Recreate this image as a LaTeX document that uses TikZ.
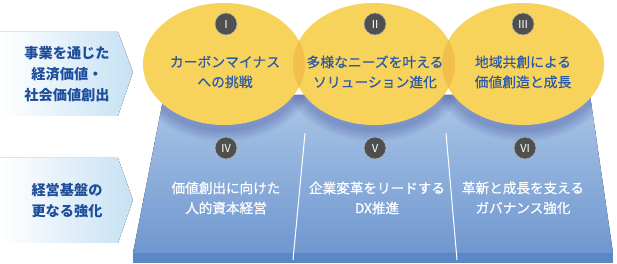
\documentclass[tikz,border=0pt]{standalone}
\usepackage{fontspec}
\newfontfamily\jpfont{Noto Sans CJK JP}
\newfontfamily\jpmedium[FakeBold=0.5]{Noto Sans CJK JP}
\usetikzlibrary{calc}
\definecolor{ellipseYellow}{HTML}{F7D35B}
\definecolor{overlapYellow}{HTML}{F2BF4C}
\definecolor{themeBlue}{HTML}{2B5BA8}
\definecolor{labelBlue}{HTML}{1E4E9B}
\definecolor{arrowBlue}{HTML}{C6E1F4}
\definecolor{platformTop}{HTML}{ABC6E7}
\definecolor{platformBottom}{HTML}{6F97CF}
\definecolor{platformEdge}{HTML}{5A88C7}
\definecolor{badgeGray}{HTML}{4F4F4F}
\tikzset{
  sideArrow/.style={
    left color=white,
    right color=arrowBlue,
    draw=none
  },
  sideLabel/.style={
    align=center,
    text=labelBlue,
    font=\jpfont\bfseries\fontsize{14.2}{21}\selectfont
  },
  themeText/.style={
    align=center,
    text=themeBlue,
    font=\jpmedium\fontsize{13.8}{20}\selectfont
  },
  baseText/.style={
    align=center,
    text=white,
    font=\jpmedium\fontsize{13.6}{20}\selectfont
  },
  badge/.style={
    circle,
    fill=badgeGray,
    draw=black!30,
    line width=0.6pt,
    minimum size=22pt,
    inner sep=0pt,
    text=white,
    font=\jpfont\fontsize{11}{11}\selectfont
  }
}

\begin{document}
\begin{tikzpicture}[x=1pt, y=1pt]
\useasboundingbox (0,0) rectangle (617,264);
\def\rx{81}    % ellipse x radius
\def\ry{61}    % ellipse y radius
\def\cy{200}   % ellipse centre height

% Side arrows
\fill[sideArrow] (0,232) -- (118,232) -- (133,192) -- (118,148) -- (0,148) -- cycle;
\fill[sideArrow] (0,106) -- (118,106) -- (133,64) -- (118,21) -- (0,21) -- cycle;
\node[sideLabel] (valueLabel) at (67,190) {事業を通じた\\経済価値・\\社会価値創出};
\node[sideLabel] (baseLabel) at (67,63) {経営基盤の\\更なる強化};

% Platform (trapezoid + front edge)
\path (164,169) coordinate (platNW) (590,169) coordinate (platNE)
      (613,11) coordinate (platSE) (133,11) coordinate (platSW);
\fill[platformEdge] (133,1) rectangle (613,11);
\fill[top color=platformTop, bottom color=platformBottom]
  (platNW) -- (platNE) -- (platSE) -- (platSW) -- cycle;

% soft shadow below the ellipses
\begin{scope}
  \clip (platNW) -- (platNE) -- (platSE) -- (platSW) -- cycle;
  \foreach \cx in {224,374,523}
    \foreach \s in {2,4,...,12}
      \fill[blue!40!black, opacity=0.04] (\cx,\cy-4) ellipse [x radius=\rx+\s, y radius=\ry+\s];
\end{scope}

% Dividers
\draw[white, line width=1pt] (305,131) -- (293,4);
\draw[white, line width=1pt] (446,131) -- (457,4);

% Ellipses
\foreach \cx in {224,374,523}
  \fill[ellipseYellow] (\cx,\cy) ellipse [x radius=\rx, y radius=\ry];

% Overlaps
\begin{scope}
  \clip (224,\cy) ellipse [x radius=\rx, y radius=\ry];
  \fill[overlapYellow] (374,\cy) ellipse [x radius=\rx, y radius=\ry];
\end{scope}
\begin{scope}
  \clip (374,\cy) ellipse [x radius=\rx, y radius=\ry];
  \fill[overlapYellow] (523,\cy) ellipse [x radius=\rx, y radius=\ry];
\end{scope}

% Badges
\node[badge] (badgeI)   at (226,240) {Ⅰ};
\node[badge] (badgeII)  at (375,240) {Ⅱ};
\node[badge] (badgeIII) at (523,240) {Ⅲ};
\node[badge] (badgeIV)  at (226,116) {Ⅳ};
\node[badge] (badgeV)   at (375,116) {Ⅴ};
\node[badge] (badgeVI)  at (525,116) {Ⅵ};

% Theme texts
\node[themeText] (themeI)   at (225,192) {カーボンマイナス\\への挑戦};
\node[themeText] (themeII)  at (375,192) {多様なニーズを叶える\\ソリューション進化};
\node[themeText] (themeIII) at (523,192) {地域共創による\\価値創造と成長};

% Base texts
\node[baseText] (baseIV)  at (226,66) {価値創出に向けた\\人的資本経営};
\node[baseText] (baseV)   at (377,66) {企業変革をリードする\\DX推進};
\node[baseText] (baseVI)  at (523,66) {革新と成長を支える\\ガバナンス強化};

\end{tikzpicture}
\end{document}
